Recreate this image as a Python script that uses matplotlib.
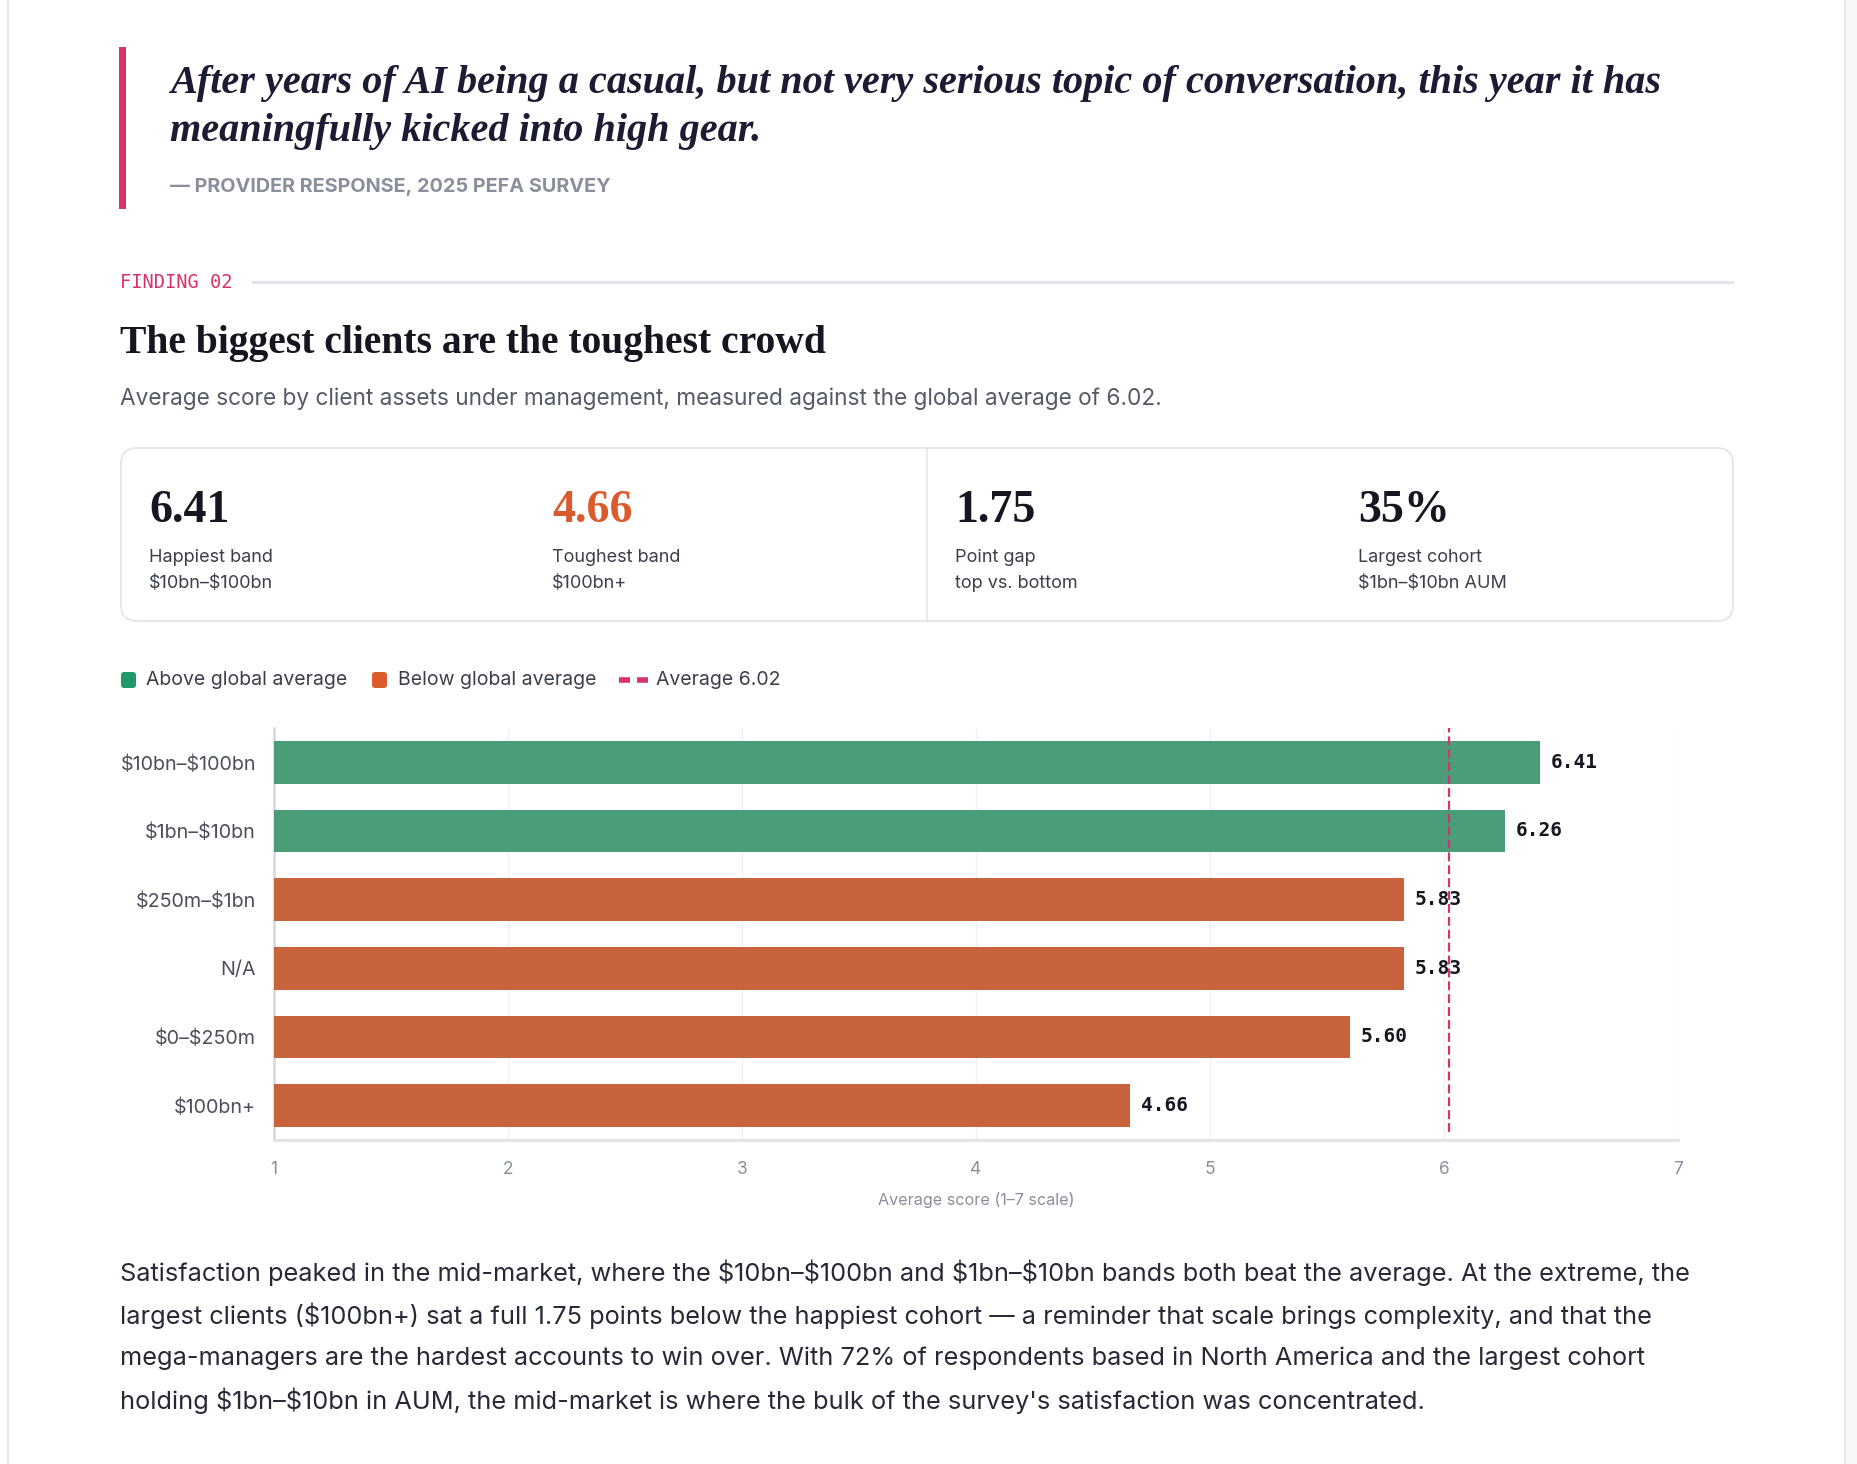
import matplotlib
matplotlib.use("Agg")
import matplotlib.pyplot as plt
from matplotlib.patches import FancyBboxPatch, Rectangle

W, H = 1858, 1464

# ---- data ----
bands = ["$10bn–$100bn", "$1bn–$10bn", "$250m–$1bn", "N/A", "$0–$250m", "$100bn+"]
scores = [6.41, 6.26, 5.83, 5.83, 5.60, 4.66]
global_avg = 6.02
x_ticks = [1, 2, 3, 4, 5, 6, 7]

stat_values = ["6.41", "4.66", "1.75", "35%"]
stat_labels = ["Happiest band", "Toughest band", "Point gap", "Largest cohort"]
stat_subs = ["$10bn–$100bn", "$100bn+", "top vs. bottom", "$1bn–$10bn AUM"]

quote_lines = ["After years of AI being a casual, but not very serious topic of conversation, this year it has",
               "meaningfully kicked into high gear."]
body_lines = [
    "Satisfaction peaked in the mid-market, where the $10bn–$100bn and $1bn–$10bn bands both beat the average. At the extreme, the",
    "largest clients ($100bn+) sat a full 1.75 points below the happiest cohort — a reminder that scale brings complexity, and that the",
    "mega-managers are the hardest accounts to win over. With 72% of respondents based in North America and the largest cohort",
    "holding $1bn–$10bn in AUM, the mid-market is where the bulk of the survey's satisfaction was concentrated.",
]

GREEN = "#4b9d79"
ORANGE = "#c9633e"
GREEN_KEY = "#1f9a6d"
ORANGE_KEY = "#da5b2c"
PINK = "#d6336c"
INK = "#1b1c33"
MUTED = "#8a8f9c"
TEXT = "#3b3f4a"

SANS = ["Inter", "DejaVu Sans"]
SERIF = ["Liberation Serif", "DejaVu Serif"]
MONO = ["DejaVu Sans Mono"]


def esc(s):
    return s.replace("$", r"\$")


fig = plt.figure(figsize=(W / 100, H / 100), dpi=100)
fig.patch.set_facecolor("white")

# page layer in pixel coordinates (y down)
bg = fig.add_axes([0, 0, 1, 1])
bg.set_xlim(0, W)
bg.set_ylim(H, 0)
bg.axis("off")

# page edges
bg.plot([8, 8], [0, H], color="#e3e3e6", lw=1.2)
bg.plot([1845, 1845], [0, H], color="#e3e3e6", lw=1.2)
bg.add_patch(Rectangle((1846, 0), W - 1846, H, color="#f7f7f8", lw=0))

# quote block
bg.add_patch(Rectangle((119, 47), 7, 162, color=PINK, lw=0))
for i, line in enumerate(quote_lines):
    bg.text(170, 83 + i * 48, line, family=SERIF, fontsize=29, fontweight="bold",
            fontstyle="italic", color=INK, va="center", ha="left")
bg.text(170, 187, "— PROVIDER RESPONSE, 2025 PEFA SURVEY", family=SANS,
        fontsize=14.3, fontweight="bold", color=MUTED, va="center")

# finding header
bg.text(120, 283, "FINDING 02", family=MONO, fontsize=13.5, color=PINK, va="center")
bg.plot([251, 1734], [282, 282], color="#e2e4ec", lw=2.2, solid_capstyle="butt")
bg.text(120, 343, "The biggest clients are the toughest crowd", family=SERIF, fontsize=28.5,
        fontweight="bold", color="#15161f", va="center")
bg.text(120, 399, esc("Average score by client assets under management, measured against the global average of 6.02."),
        family=SANS, fontsize=16.3, color="#555b66", va="center")

# stats card
bg.add_patch(FancyBboxPatch((121, 448), 1612, 173, boxstyle="round,pad=0,rounding_size=16",
                            fc="white", ec="#e3e5ec", lw=1.3))
bg.plot([927, 927], [448, 621], color="#e3e5ec", lw=1.2)
stat_x = [149, 552, 955, 1358]
for i in range(len(stat_values)):
    col = ORANGE_KEY if i == 1 else "#15161f"
    bg.text(stat_x[i], 511, stat_values[i], family=SERIF, fontsize=33, fontweight="bold",
            color=col, va="center")
    bg.text(stat_x[i], 558, stat_labels[i], family=SANS, fontsize=13, color=TEXT, va="center")
    bg.text(stat_x[i], 584, esc(stat_subs[i]), family=SANS, fontsize=13, color=TEXT, va="center")

# legend
bg.add_patch(FancyBboxPatch((121, 672), 15, 16, boxstyle="round,pad=0,rounding_size=3",
                            fc=GREEN_KEY, ec="none"))
bg.text(146, 680, "Above global average", family=SANS, fontsize=14, color=TEXT, va="center")
bg.add_patch(FancyBboxPatch((372, 672), 15, 16, boxstyle="round,pad=0,rounding_size=3",
                            fc=ORANGE_KEY, ec="none"))
bg.text(398, 680, "Below global average", family=SANS, fontsize=14, color=TEXT, va="center")
bg.plot([619, 630], [680, 680], color=PINK, lw=4, solid_capstyle="butt")
bg.plot([637, 648], [680, 680], color=PINK, lw=4, solid_capstyle="butt")
bg.text(656, 680, "Average 6.02", family=SANS, fontsize=14, color=TEXT, va="center")

# body paragraph
for i, line in enumerate(body_lines):
    bg.text(120, 1273 + i * 42.5, esc(line), family=SANS, fontsize=18.25, color="#272a36", va="center")

# ---- bar chart ----
ax = fig.add_axes([274 / W, 1 - 1140 / H, 1404 / W, 412 / H])
ypos = list(range(len(bands)))
colors = [GREEN if s > global_avg else ORANGE for s in scores]
ax.barh(ypos, [s - 1 for s in scores], left=1, height=0.62, color=colors, zorder=3)
for y, s in zip(ypos, scores):
    ax.annotate(f"{s:.2f}", (s, y), xytext=(7.5, 0), textcoords="offset points",
                va="center", ha="left", family=MONO, fontsize=14, fontweight="bold",
                color="#15161f", zorder=5)
ax.axvline(global_avg, ymin=0.02, ymax=1, color=PINK, lw=1.6, ls=(0, (4, 1.8)), zorder=4)

ax.set_xlim(1, 7)
ax.set_ylim(len(bands) - 0.5, -0.5)
ax.set_xticks(x_ticks)
ax.set_xticklabels([str(t) for t in x_ticks], family=SANS, fontsize=12.5, color=MUTED)
ax.set_yticks(ypos)
ax.set_yticklabels([esc(b) for b in bands], family=SANS, fontsize=14.2, color="#4a4f5a")
ax.tick_params(axis="both", length=0)
ax.tick_params(axis="y", pad=13)
ax.tick_params(axis="x", pad=15)
ax.grid(axis="x", color="#eef0f4", lw=1, zorder=0)
for side in ["top", "right"]:
    ax.spines[side].set_visible(False)
ax.spines["left"].set_color("#d6d7dc")
ax.spines["left"].set_linewidth(1.8)
ax.spines["bottom"].set_color("#e1e2e6")
ax.spines["bottom"].set_linewidth(2)
ax.set_xlabel("Average score (1–7 scale)", family=SANS, fontsize=11.6, color=MUTED, labelpad=10)
ax.set_facecolor("none")

fig.savefig("out.png", dpi=100, facecolor="white")
